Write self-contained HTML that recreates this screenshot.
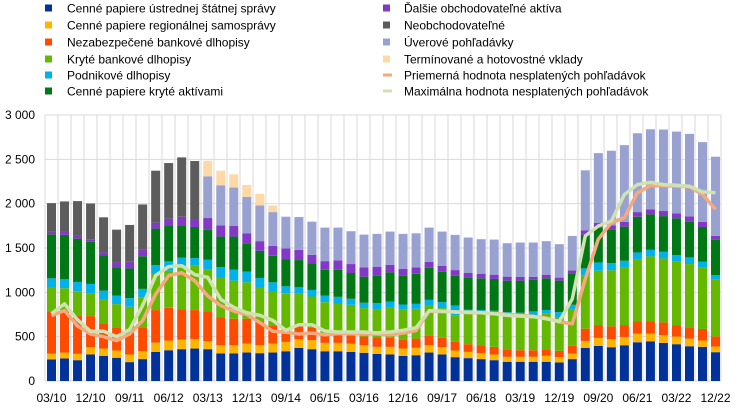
<!DOCTYPE html>
<html><head><meta charset="utf-8"><style>
html,body{margin:0;padding:0;background:#fff;}
svg{display:block;font-family:"Liberation Sans",sans-serif;}
</style></head><body>
<svg id="c" width="744" height="411" xmlns="http://www.w3.org/2000/svg"></svg>
<script>
const cols=["#003299","#ffb400","#ff4b00","#65b800","#00b1ea","#007816","#8139c6","#5c5c5c","#98a1d0","#fdd9a5"];
// cumulative tops: blue,yellow,red,lgreen,cyan,dgreen,purple,gray,lav,peach
const D=[
[243,310,788,1054,1158,1655,1685,2006,2006,2006],
[254,321,780,1046,1147,1648,1681,2025,2025,2025],
[235,306,740,1012,1117,1606,1636,2029,2029,2029],
[299,381,732,983,1095,1569,1599,2002,2002,2002],
[284,366,643,915,1020,1420,1450,1846,1846,1846],
[262,344,605,867,964,1281,1337,1707,1707,1707],
[213,299,542,837,934,1270,1345,1760,1760,1760],
[247,336,605,945,1039,1408,1479,1991,1991,1991],
[329,433,800,1207,1308,1719,1786,2372,2372,2372],
[347,456,826,1244,1349,1748,1831,2458,2458,2458],
[359,467,807,1300,1390,1748,1853,2522,2522,2522],
[366,474,800,1300,1386,1737,1816,2481,2481,2481],
[359,448,788,1255,1367,1704,1838,1838,2309,2484],
[310,403,721,1162,1285,1629,1756,1756,2208,2372],
[310,403,702,1132,1255,1629,1748,1748,2182,2331],
[321,422,702,1113,1233,1554,1666,1666,2077,2212],
[314,403,665,1054,1162,1468,1577,1577,1980,2111],
[321,422,628,1009,1113,1412,1524,1524,1905,1980],
[336,441,553,990,1068,1375,1494,1494,1853,1853],
[374,471,628,983,1057,1364,1479,1479,1849,1849],
[359,460,605,953,1027,1326,1423,1423,1797,1797],
[336,430,534,889,964,1255,1352,1352,1730,1730],
[336,430,516,874,949,1255,1360,1360,1730,1730],
[329,422,508,859,927,1218,1319,1319,1689,1689],
[318,403,501,822,882,1177,1282,1282,1651,1651],
[306,385,490,811,878,1188,1289,1289,1659,1659],
[299,385,486,825,897,1225,1311,1311,1685,1685],
[284,366,471,803,863,1188,1263,1263,1659,1659],
[291,374,478,814,870,1210,1282,1282,1666,1666],
[321,403,508,852,915,1278,1345,1345,1730,1730],
[299,381,486,822,889,1233,1300,1300,1685,1685],
[269,344,441,740,852,1188,1251,1251,1648,1648],
[258,329,415,788,803,1166,1218,1218,1618,1618],
[247,314,400,777,800,1158,1210,1210,1599,1599],
[235,299,385,777,792,1151,1199,1199,1595,1595],
[217,273,359,740,777,1132,1177,1177,1554,1554],
[217,273,347,732,770,1132,1173,1173,1562,1562],
[217,273,347,740,785,1143,1173,1173,1562,1562],
[217,284,359,758,800,1158,1199,1199,1577,1577],
[209,269,340,721,777,1132,1166,1166,1543,1543],
[247,310,396,807,859,1207,1248,1248,1636,1636],
[374,452,590,1188,1270,1648,1700,1700,2376,2376],
[396,486,631,1244,1337,1730,1782,1782,2570,2570],
[381,471,616,1248,1330,1711,1756,1756,2597,2597],
[403,497,631,1281,1356,1741,1793,1793,2660,2660],
[437,534,676,1375,1450,1853,1905,1905,2794,2794],
[448,534,676,1405,1479,1879,1935,1935,2839,2839],
[430,516,661,1382,1457,1860,1917,1917,2836,2836],
[415,501,631,1345,1420,1834,1890,1890,2813,2813],
[392,478,605,1319,1394,1797,1857,1857,2787,2787],
[385,456,587,1278,1345,1737,1793,1793,2694,2694],
[325,389,504,1143,1195,1591,1636,1636,2530,2530]];
const OR=[735,795,620,530,500,455,530,680,980,1190,1220,1130,960,850,790,750,660,560,550,530,540,520,535,535,530,530,520,540,570,790,780,780,770,770,760,750,740,730,710,665,646,1150,1599,1786,1842,2122,2204,2204,2197,2190,2103,1935];
const GR=[760,870,690,560,560,500,580,850,1190,1290,1300,1200,1170,920,830,770,740,684,572,635,635,564,553,553,553,542,553,572,601,792,788,777,777,770,758,740,732,725,702,672,926,1636,1748,1804,2103,2215,2241,2215,2208,2197,2133,2122];
const Y=v=>381-v*266/3000, X=i=>51.5+i*13.02;
let s='';
// grid
for(let k=0;k<=6;k++){const y=Y(k*500);s+=`<line x1="45" x2="721" y1="${y}" y2="${y}" stroke="#d9d9d9" stroke-width="1"/>`;
s+=`<text x="35" y="${y+4}" font-size="12" text-anchor="end" fill="#000">${k==0?'0':(k*500).toLocaleString('en').replace(',','\u00a0').replace(/(\d)(\d{3})$/,'$1 $2')}</text>`;}
for(let i=0;i<=52;i++){const x=45+i*13;s+=`<line x1="${x}" x2="${x}" y1="115" y2="381" stroke="#d9d9d9" stroke-width="1"/>`;}
D.forEach((d,i)=>{let prev=0;d.forEach((v,j)=>{if(v>prev){s+=`<rect x="${X(i)-4.5}" y="${Y(v)}" width="9" height="${Y(prev)-Y(v)}" fill="${cols[j]}"/>`;prev=v;}});});
const pl=a=>a.map((v,i)=>`${X(i).toFixed(1)},${Y(v).toFixed(1)}`).join(' ');
s+=`<polyline points="${pl(OR)}" fill="none" stroke="#f4a97f" stroke-width="3.5" stroke-linejoin="round"/>`;
s+=`<polyline points="${pl(GR)}" fill="none" stroke="#cfe2b2" stroke-width="3.5" stroke-linejoin="round"/>`;
const lab=["03/10","12/10","09/11","06/12","03/13","12/13","09/14","06/15","03/16","12/16","09/17","06/18","03/19","12/19","09/20","06/21","03/22","12/22"];
lab.forEach((t,k)=>{s+=`<text x="${X(k*3)}" y="402" font-size="12" text-anchor="middle">${t}</text>`;});
// legend
const L1=["Cenné papiere ústrednej štátnej správy","Cenné papiere regionálnej samosprávy","Nezabezpečené bankové dlhopisy","Kryté bankové dlhopisy","Podnikové dlhopisy","Cenné papiere kryté aktívami"];
const L2=["Ďalšie obchodovateľné aktíva","Neobchodovateľné","Úverové pohľadávky","Termínované a hotovostné vklady","Priemerná hodnota nesplatených pohľadávok","Maximálna hodnota nesplatených pohľadávok"];
const ry=[8,25,42,59,75,91];
L1.forEach((t,k)=>{s+=`<rect x="45" y="${ry[k]-3.5}" width="7" height="7" fill="${cols[k]}"/><text x="67" y="${ry[k]+4.5}" font-size="12">${t}</text>`;});
L2.forEach((t,k)=>{if(k<4)s+=`<rect x="383" y="${ry[k]-3.5}" width="7" height="7" fill="${cols[k+6]}"/>`;else s+=`<rect x="383" y="${ry[k]-1.5}" width="9" height="3" fill="${k==4?'#f4a97f':'#cfe2b2'}"/>`;
s+=`<text x="404" y="${ry[k]+4.5}" font-size="12">${t}</text>`;});
document.getElementById('c').innerHTML=s;
</script>
</body></html>
